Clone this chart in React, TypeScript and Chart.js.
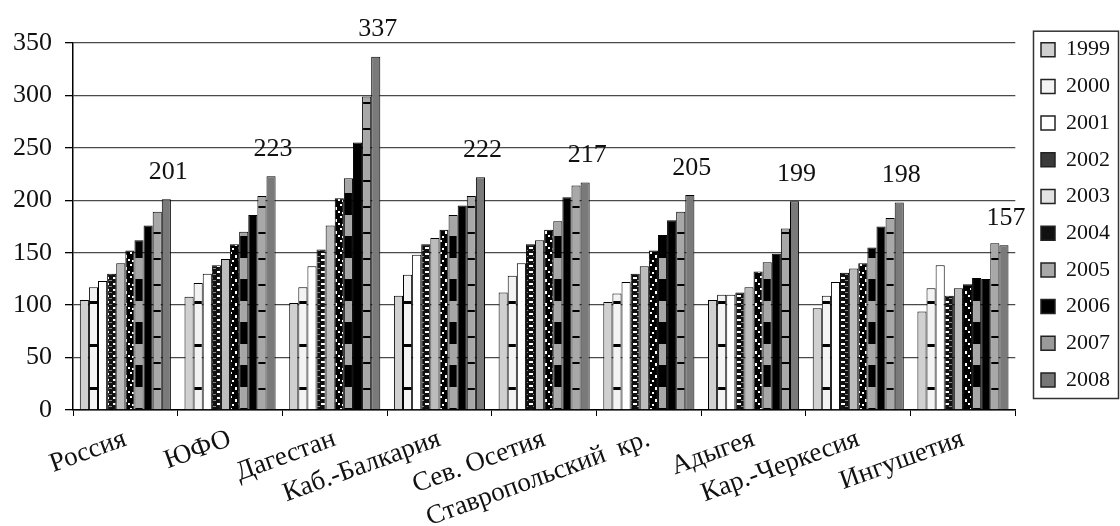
import React, { useEffect, useRef } from 'react';
import { Chart, registerables } from 'chart.js';

Chart.register(...registerables);

const regions = ['Россия', 'ЮФО', 'Дагестан', 'Каб.-Балкария', 'Сев. Осетия', 'Ставропольский  кр.', 'Адыгея', 'Кар.-Черкесия', 'Ингушетия'];
const years = ['1999', '2000', '2001', '2002', '2003', '2004', '2005', '2006', '2007', '2008'];

const v1999 = [105, 108, 102, 109, 112, 103, 105, 97, 94];
const v2000 = [117, 121, 117, 129, 128, 111, 110, 109, 116];
const v2001 = [123, 130, 137, 148, 140, 122, 110, 122, 138];
const v2002 = [130, 138, 153, 158, 158, 130, 112, 131, 109];
const v2003 = [140, 144, 176, 164, 162, 137, 117, 135, 116];
const v2004 = [152, 158, 202, 172, 172, 152, 132, 140, 120];
const v2005 = [162, 170, 221, 186, 180, 167, 141, 155, 126];
const v2006 = [176, 186, 255, 195, 203, 181, 149, 175, 125];
const v2007 = [189, 204, 299, 204, 214, 189, 173, 183, 159];
const v2008 = [201, 223, 337, 222, 217, 205, 199, 198, 157];

const series = [v1999, v2000, v2001, v2002, v2003, v2004, v2005, v2006, v2007, v2008];
const yTicks = [0, 50, 100, 150, 200, 250, 300, 350];

const legendFills = ['#cfcfcf', '#f4f4f4', '#ffffff', '#3a3a3a', '#e2e2e2', '#111111', '#a8a8a8', '#000000', '#9a9a9a', '#777777'];

function makeFill(kind: number): CanvasPattern | string {
  const c = document.createElement('canvas');
  const ctx = c.getContext('2d')!;
  const pat = () => ctx.createPattern(c, 'repeat') as CanvasPattern;
  switch (kind) {
    case 0:
      return '#d0d0d0';
    case 1:
      c.width = 10; c.height = 43;
      ctx.fillStyle = '#f3f3f3'; ctx.fillRect(0, 0, 10, 43);
      ctx.fillStyle = '#000'; ctx.fillRect(0, 0, 10, 3);
      return pat();
    case 2:
      return '#ffffff';
    case 3:
      c.width = 8; c.height = 6;
      ctx.fillStyle = '#111'; ctx.fillRect(0, 0, 8, 6);
      ctx.fillStyle = '#fff'; ctx.fillRect(1, 1, 4, 2);
      ctx.fillStyle = '#888'; ctx.fillRect(5, 4, 3, 1);
      return pat();
    case 4:
      return '#bcbcbc';
    case 5:
      c.width = 10; c.height = 12;
      ctx.fillStyle = '#000'; ctx.fillRect(0, 0, 10, 12);
      ctx.fillStyle = '#fff';
      ctx.fillRect(0, 0, 2, 2); ctx.fillRect(5, 3, 2, 3); ctx.fillRect(2, 8, 2, 2); ctx.fillRect(8, 7, 2, 2);
      return pat();
    case 6:
      c.width = 10; c.height = 43;
      ctx.fillStyle = '#a6a6a6'; ctx.fillRect(0, 0, 10, 43);
      ctx.fillStyle = '#000'; ctx.fillRect(0, 21, 10, 22);
      return pat();
    case 7:
      return '#000000';
    case 8:
      c.width = 10; c.height = 26;
      ctx.fillStyle = '#a8a8a8'; ctx.fillRect(0, 0, 10, 26);
      ctx.fillStyle = '#000'; ctx.fillRect(0, 24, 10, 2);
      return pat();
    default:
      return '#7a7a7a';
  }
}

const FONT = "'Liberation Serif', serif";

export default function App() {
  const ref = useRef<HTMLCanvasElement>(null);
  useEffect(() => {
    const canvas = ref.current!;
    let chart: Chart | null = null;
    let cancelled = false;
    const topLabels = {
      id: 'topLabels',
      afterDatasetsDraw(ch: any) {
        const ctx = ch.ctx;
        const meta = ch.getDatasetMeta(series.length - 1);
        ctx.save();
        ctx.font = `26px ${FONT}`;
        ctx.fillStyle = '#111';
        ctx.textAlign = 'center';
        ctx.textBaseline = 'bottom';
        meta.data.forEach((bar: any, i: number) => {
          ctx.fillText(String(v2008[i]), bar.x + 2, bar.y - 14);
        });
        ctx.restore();
      },
    };
    const legendBorder = {
      id: 'legendBorder',
      afterDraw(ch: any) {
        const boxes = ch.legend?.legendHitBoxes;
        if (!boxes || !boxes.length) return;
        const ctx = ch.ctx;
        const left = Math.min(...boxes.map((b: any) => b.left)) - 8;
        const top = boxes[0].top - 8;
        const bottom = boxes[boxes.length - 1].top + boxes[boxes.length - 1].height + 7;
        ctx.save();
        ctx.strokeStyle = '#333';
        ctx.lineWidth = 1.5;
        ctx.strokeRect(left + 0.5, top + 0.5, ch.width - 2 - left, bottom - top);
        ctx.restore();
      },
    };
    const build = () => {
      if (cancelled) return;
      chart = new Chart(canvas, {
        type: 'bar',
        data: {
          labels: regions,
          datasets: series.map((data, i) => ({
            label: years[i],
            data,
            backgroundColor: makeFill(i) as any,
            borderColor: '#000',
            borderWidth: 1,
            categoryPercentage: 0.87,
            barPercentage: 1,
          })),
        },
        options: {
          responsive: false,
          animation: false,
          layout: { padding: { left: 0, right: 0, top: 24, bottom: 0 } },
          plugins: {
            tooltip: { enabled: false },
            legend: {
              position: 'right',
              align: 'start',
              labels: {
                font: { family: FONT, size: 22 },
                color: '#111',
                boxWidth: 14,
                boxHeight: 14,
                padding: 14.7,
                generateLabels: (c: any) => {
                  const items = Chart.defaults.plugins.legend.labels.generateLabels(c);
                  return items.map((it: any, i: number) => ({ ...it, fillStyle: legendFills[i], strokeStyle: '#222', lineWidth: 1.5 }));
                },
              },
            },
          },
          scales: {
            x: {
              grid: { display: true, drawOnChartArea: false, drawTicks: true, tickLength: 6, color: '#000', offset: true },
              border: { display: true, color: '#000', width: 1.5 },
              ticks: { font: { family: FONT, size: 27 }, color: '#111', minRotation: 20, maxRotation: 20, padding: 7, autoSkip: false },
              afterFit: (s: any) => { s.paddingLeft = 0; s.paddingRight = 0; s.height = 116; },
            },
            xTop: {
              type: 'linear',
              position: 'top',
              display: true,
              grid: { display: false },
              border: { display: false },
              ticks: { display: false },
              afterFit: (s: any) => { s.height = 19; },
            } as any,
            y: {
              min: 0,
              max: 350,
              afterBuildTicks: (s: any) => { s.ticks = yTicks.map((v) => ({ value: v })); },
              grid: { color: '#4a4a4a', lineWidth: 1.3, tickLength: 8, tickColor: '#000' },
              border: { display: true, color: '#000', width: 1.5 },
              ticks: { font: { family: FONT, size: 26 }, color: '#111', padding: 13 },
              afterFit: (s: any) => { s.width = 73; },
            },
            yRight: {
              type: 'linear',
              position: 'right',
              display: true,
              grid: { display: false },
              border: { display: false },
              ticks: { display: false },
              afterFit: (s: any) => { s.width = 11; },
            } as any,
          },
        },
        plugins: [topLabels, legendBorder],
      });
    };
    const fontsApi = (document as any).fonts;
    if (fontsApi && fontsApi.load) {
      fontsApi.load(`24px 'Liberation Serif'`, 'РоссияЮФО0123').then(build, build);
    } else {
      build();
    }
    return () => {
      cancelled = true;
      if (chart) chart.destroy();
    };
  }, []);
  return (
    <div style={{ position: 'fixed', left: 0, top: 0, width: 1120, height: 526, background: '#fff' }}>
      <canvas ref={ref} width={1120} height={526} />
    </div>
  );
}
